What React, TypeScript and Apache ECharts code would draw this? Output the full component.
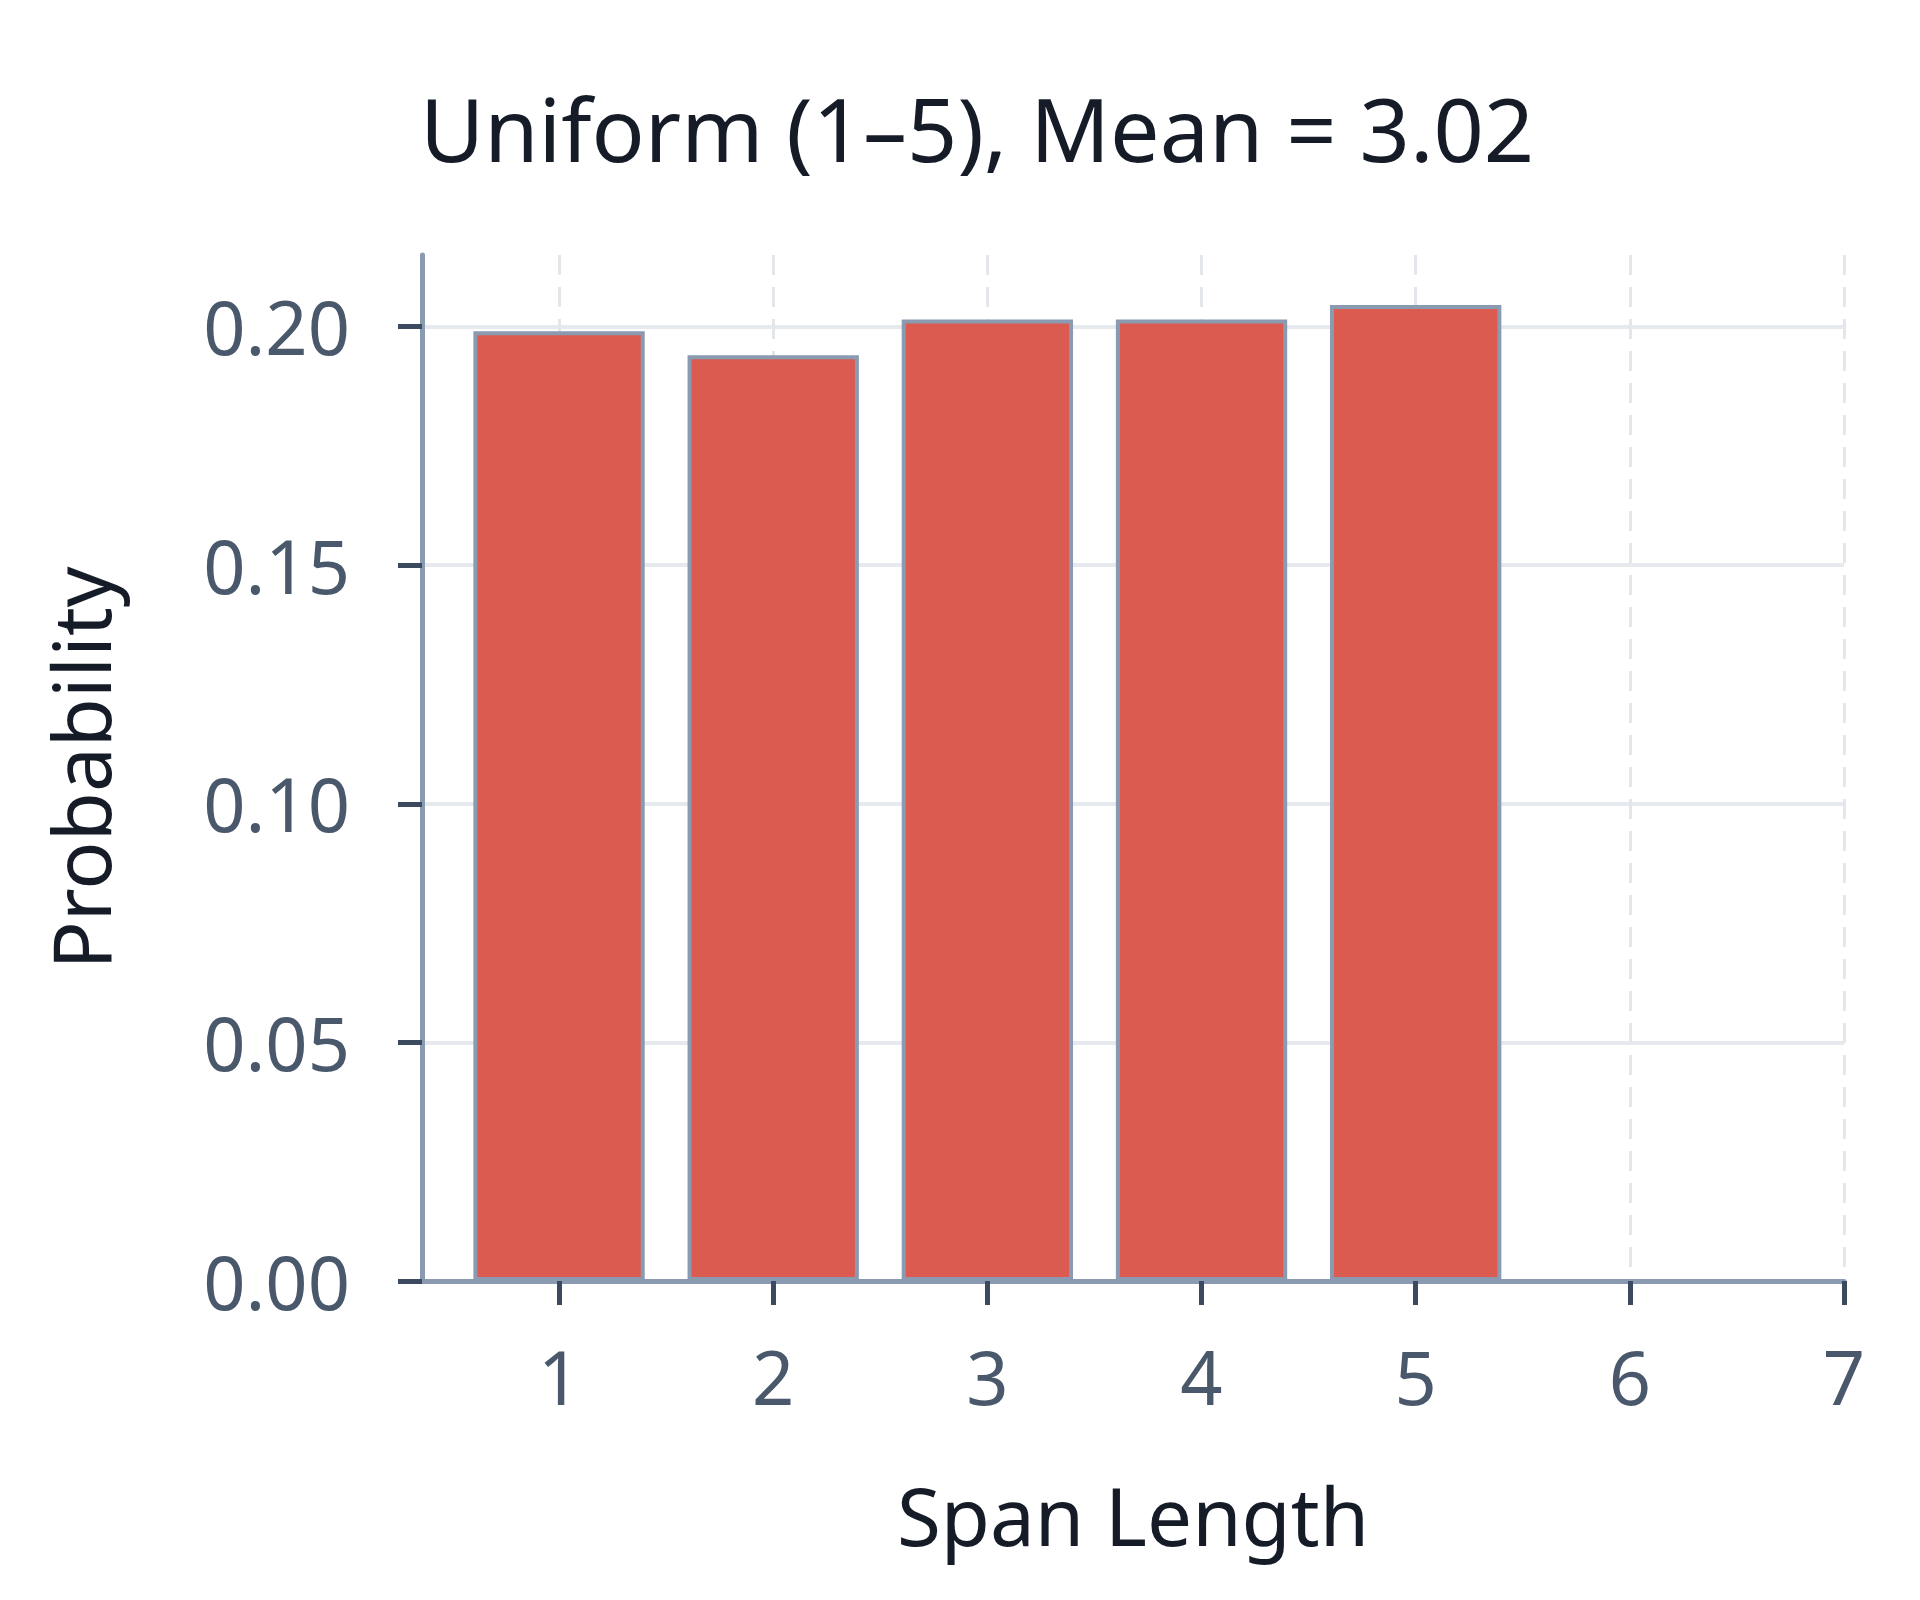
import { useEffect, useRef } from "react";
import * as echarts from "echarts";

const spanLengths = [1, 2, 3, 4, 5];
const probabilities = [0.199, 0.194, 0.2015, 0.2015, 0.2045];
const xTicks = [1, 2, 3, 4, 5, 6, 7];
const yTicks = [0, 0.05, 0.1, 0.15, 0.2];
const chartTitle = "Uniform (1–5), Mean = 3.02";

const FONT = "Noto Sans";
const axisGrey = "#8a9ab1";
const tickDark = "#3b4a5e";
const labelColor = "#4a586c";
const inkDark = "#151b27";

/** Span length histogram for a uniform (1–5) sampler. */
export default function App() {
  const ref = useRef<HTMLDivElement>(null);

  useEffect(() => {
    const el = ref.current;
    if (!el) return;
    const chart = echarts.init(el, undefined, { renderer: "svg" });
    chart.setOption({
      animation: false,
      backgroundColor: "#ffffff",
      textStyle: { fontFamily: FONT },
      graphic: [
        {
          type: "text",
          x: 977,
          y: 128,
          style: {
            text: chartTitle,
            font: `88px "${FONT}"`,
            fill: inkDark,
            textAlign: "center",
            textVerticalAlign: "middle",
          },
        },
      ],
      grid: { left: 422, right: 76, top: 255, bottom: 319 },
      xAxis: {
        type: "value",
        min: 0.36,
        max: 7,
        name: "Span Length",
        nameLocation: "middle",
        nameGap: 193,
        nameTextStyle: { fontSize: 80, color: inkDark, fontFamily: FONT },
        axisLine: { show: true, lineStyle: { color: axisGrey, width: 5 } },
        axisTick: {
          show: true,
          customValues: xTicks,
          length: 24,
          lineStyle: { color: tickDark, width: 5 },
        },
        axisLabel: {
          customValues: xTicks,
          margin: 58,
          fontSize: 74,
          color: labelColor,
          fontFamily: FONT,
          formatter: (v: number) => String(v),
        },
        splitLine: {
          show: true,
          lineStyle: { color: "#e3e6eb", width: 3, type: [20, 12] },
        },
      },
      yAxis: {
        type: "value",
        min: 0,
        max: 0.215,
        name: "Probability",
        nameLocation: "middle",
        nameGap: 303,
        nameTextStyle: { fontSize: 80, color: inkDark, fontFamily: FONT },
        axisLine: { show: true, lineStyle: { color: axisGrey, width: 5 } },
        axisTick: {
          show: true,
          customValues: yTicks,
          length: 24,
          lineStyle: { color: tickDark, width: 5 },
        },
        axisLabel: {
          customValues: yTicks,
          margin: 72,
          fontSize: 74,
          color: labelColor,
          fontFamily: FONT,
          formatter: (v: number) => v.toFixed(2),
        },
        splitLine: {
          show: true,
          lineStyle: { color: "#e6e9ee", width: 4, type: "solid" },
        },
      },
      series: [
        {
          type: "bar",
          data: spanLengths.map((s, i) => [s, probabilities[i]]),
          barWidth: "80%",
          itemStyle: { color: "#db5b50", borderColor: axisGrey, borderWidth: 4 },
        },
      ],
    });
    return () => chart.dispose();
  }, []);

  return (
    <div
      ref={ref}
      style={{ position: "absolute", left: 0, top: 0, width: 1920, height: 1600 }}
    />
  );
}
